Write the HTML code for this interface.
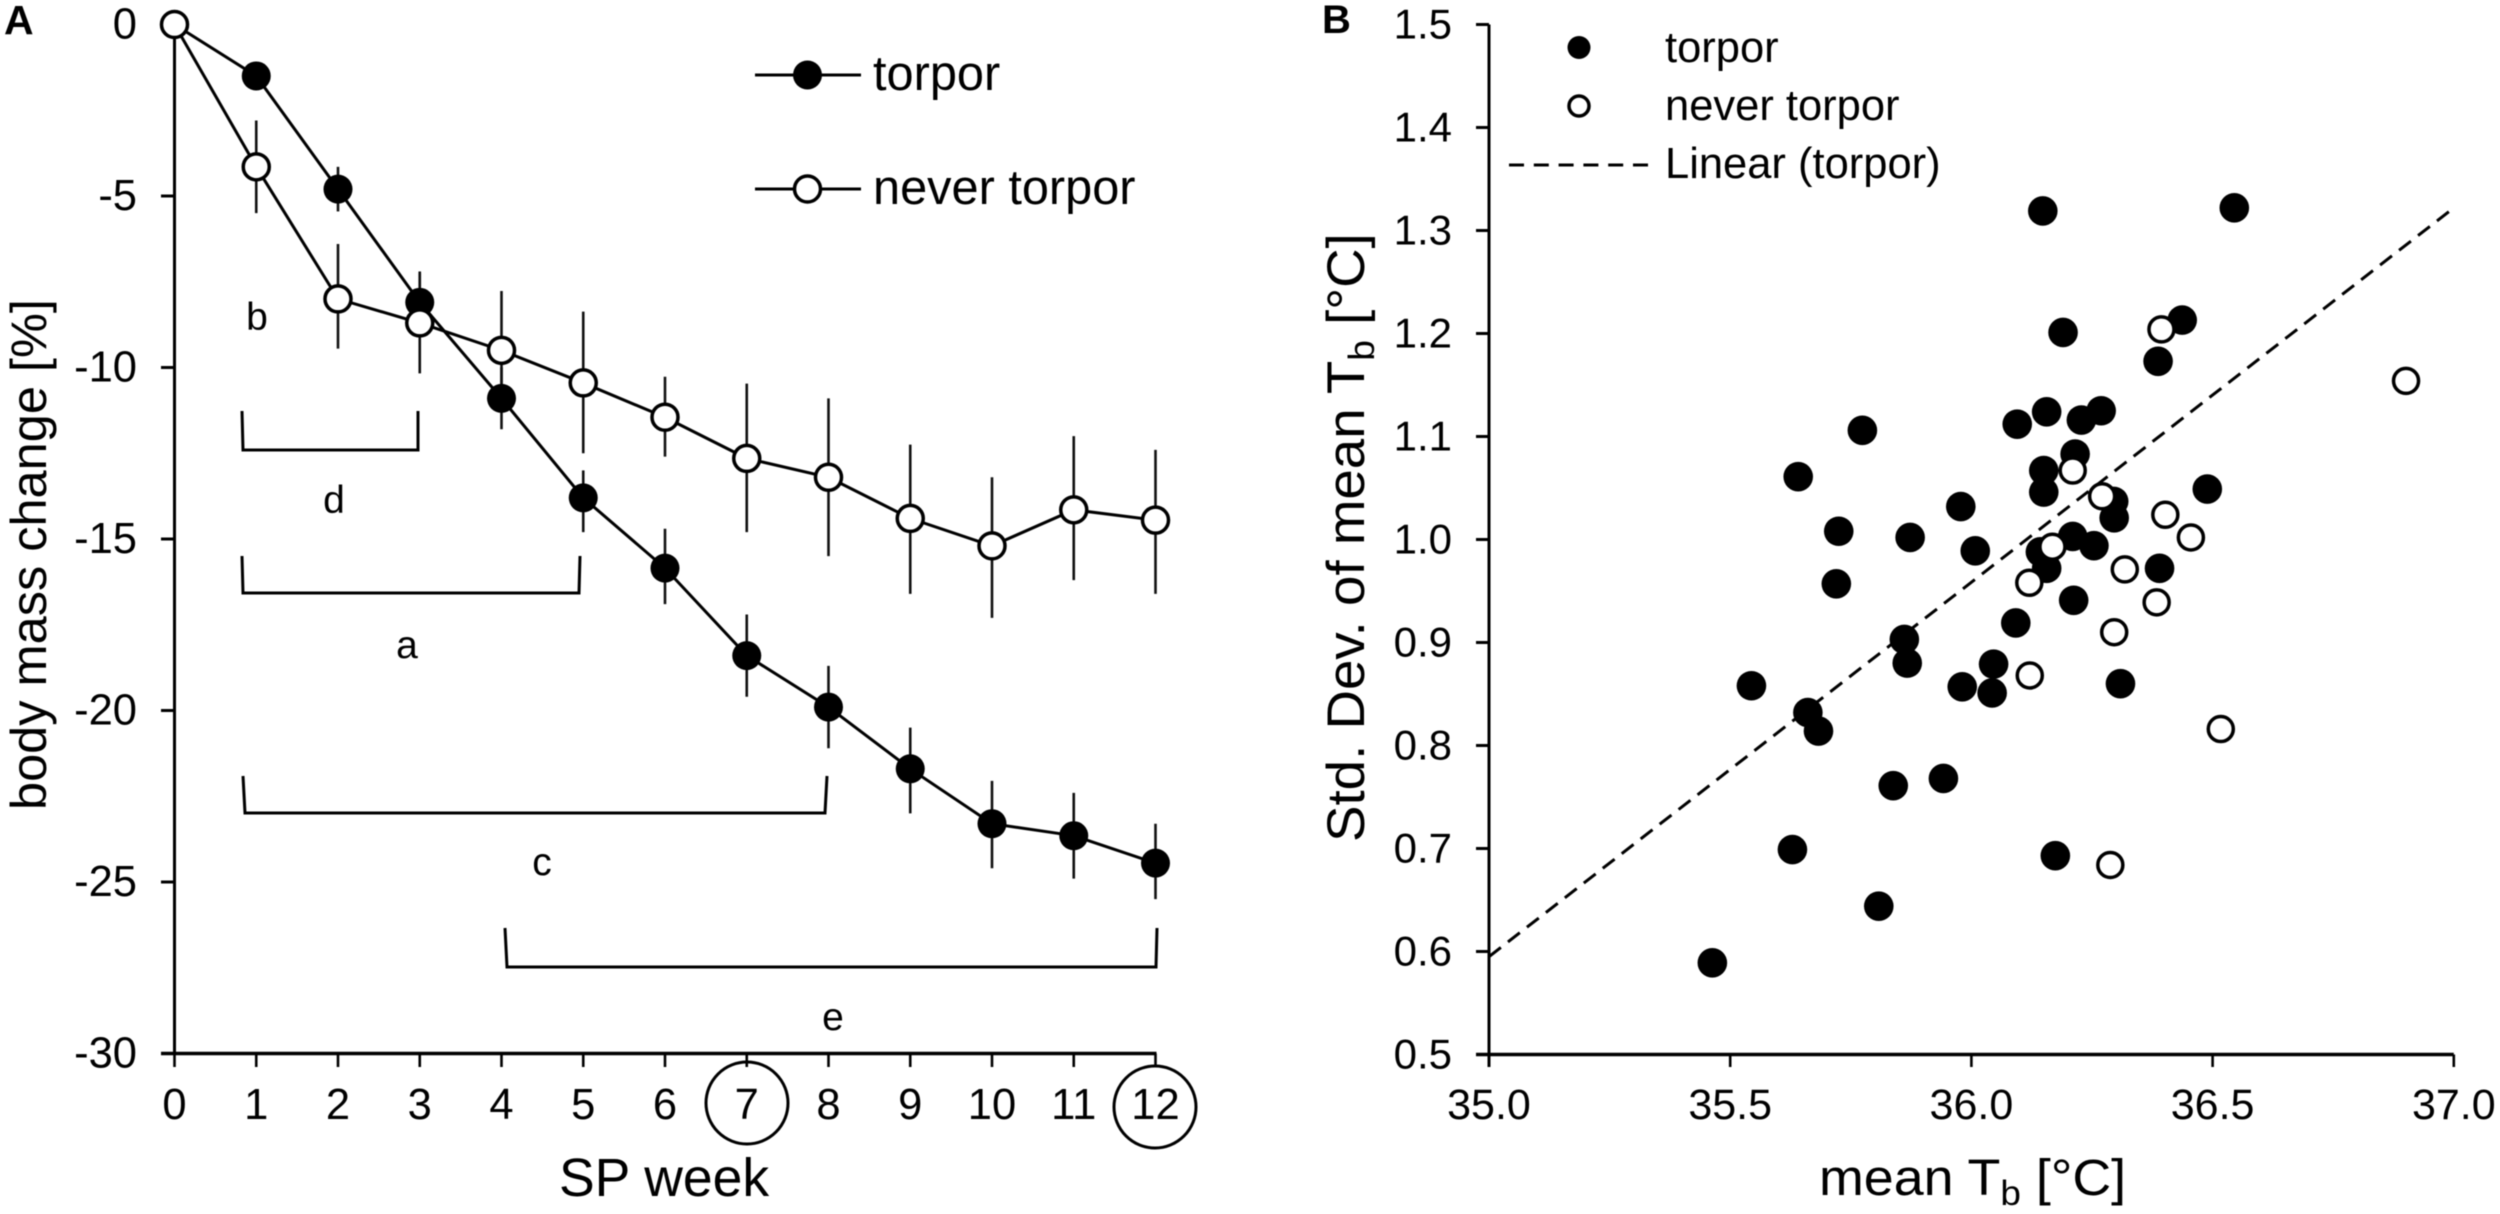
<!DOCTYPE html>
<html>
<head>
<meta charset="utf-8">
<title>Body mass change and body temperature variation</title>
<style>
html,body{margin:0;padding:0;background:#fff;}
svg{display:block;font-family:"Liberation Sans",sans-serif;fill:#000;filter:blur(0.5px);}
</style>
</head>
<body>
<svg id="figure" width="2500" height="1214" viewBox="0 0 2500 1214" xmlns="http://www.w3.org/2000/svg">
  <rect width="2500" height="1214" fill="#fff"/>

  <g id="panelA">
    <text x="4" y="34" font-size="41" font-weight="bold">A</text>
    <text transform="translate(46,810) rotate(-90)" font-size="50.5">body mass change [%]</text>
    <text x="559" y="1196" font-size="53.5">SP week</text>

    <g fill="none" stroke="#000" stroke-width="3">
      <path d="M242 411 L243 450 L418 450 L418 411"/>
      <path d="M242 556 L243 593 L579 593 L580 556"/>
      <path d="M243 776 L245 813 L825 813 L827 776"/>
      <path d="M505 928 L507 967 L1156 967 L1157 928"/>
    </g>
    <g font-size="39" text-anchor="middle">
      <text x="257" y="330">b</text>
      <text x="334" y="513">d</text>
      <text x="407" y="658">a</text>
      <text x="542" y="875">c</text>
      <text x="833" y="1030">e</text>
    </g>

    <g>
      <line x1="755" x2="861" y1="75" y2="75" stroke="#000" stroke-width="3"/>
      <circle cx="807.5" cy="75" r="14.5" fill="#000"/>
      <text x="873" y="90" font-size="48.7">torpor</text>
      <line x1="755" x2="861" y1="189" y2="189" stroke="#000" stroke-width="3"/>
      <circle cx="807.5" cy="189" r="13" fill="#fff" stroke="#000" stroke-width="3.5"/>
      <text x="873" y="204" font-size="48.7">never torpor</text>
    </g>

    <ellipse cx="747" cy="1103" rx="41" ry="41" fill="none" stroke="#000" stroke-width="3"/>
    <ellipse cx="1155" cy="1107" rx="41" ry="41" fill="none" stroke="#000" stroke-width="3"/>
  </g>

  <g id="panelB">
    <text x="1322" y="33" font-size="40" font-weight="bold">B</text>
    <text transform="translate(1364,842) rotate(-90) scale(1.032,1)" font-size="53">Std. Dev. of mean T<tspan font-size="36" dy="10">b</tspan><tspan dy="-10"> [°C]</tspan></text>
    <text transform="translate(1819,1195) scale(1.055,1)" font-size="51">mean T<tspan font-size="35" dy="10">b</tspan><tspan dy="-10"> [°C]</tspan></text>

    <g>
      <circle cx="1579" cy="47.5" r="11.5" fill="#000"/>
      <text x="1665" y="62" font-size="43.5">torpor</text>
      <circle cx="1579" cy="106" r="10" fill="#fff" stroke="#000" stroke-width="3.5"/>
      <text x="1665" y="120" font-size="43.5">never torpor</text>
      <line x1="1509" x2="1648" y1="165" y2="165" stroke="#000" stroke-width="3" stroke-dasharray="15 9.8"/>
      <text x="1665" y="178" font-size="43.5">Linear (torpor)</text>
    </g>
  </g>
</svg>

<script>
/* Panel A data */
const weeks = [0,1,2,3,4,5,6,7,8,9,10,11,12];
const torporMass = [0,-1.5,-4.8,-8.1,-10.9,-13.8,-15.85,-18.4,-19.9,-21.7,-23.3,-23.65,-24.45];
const neverMass = [0,-4.15,-8,-8.7,-9.5,-10.45,-11.45,-12.65,-13.2,-14.4,-15.2,-14.15,-14.45];
const torporErrTop = [0,-1.2,-4.15,-7.2,-10,-13,-14.7,-17.2,-18.7,-20.5,-22.05,-22.4,-23.3];
const torporErrBottom = [0,-1.8,-5.45,-9,-11.8,-14.8,-16.9,-19.6,-21.1,-23,-24.6,-24.9,-25.5];
const neverErrTop = [0,-2.8,-6.4,-7.25,-7.77,-8.37,-10.27,-10.47,-10.9,-12.25,-13.2,-12,-12.4];
const neverErrBottom = [0,-5.5,-9.45,-10.17,-11.2,-12.5,-12.6,-14.8,-15.5,-16.6,-17.3,-16.2,-16.6];
const massTicks = [0,-5,-10,-15,-20,-25,-30];

/* Panel B data */
const torporMeanTb = [36.148,36.545,36.19,36.437,36.387,36.156,36.095,36.269,36.228,35.774,36.215,36.15,36.15,35.641,36.489,36.295,36.296,35.978,35.725,35.873,36.21,36.254,36.008,36.143,36.156,36.39,35.72,36.212,36.092,35.861,35.867,36.046,35.981,36.043,36.309,35.544,35.661,35.683,35.838,35.942,35.629,36.174,35.808,35.463];
const torporStdDev = [1.319,1.322,1.201,1.213,1.173,1.124,1.112,1.125,1.116,1.106,1.083,1.067,1.046,1.061,1.049,1.037,1.021,1.032,1.008,1.002,1.003,0.994,0.989,0.988,0.972,0.972,0.957,0.941,0.919,0.903,0.88,0.879,0.857,0.851,0.86,0.858,0.832,0.814,0.761,0.768,0.699,0.693,0.644,0.589];
const neverMeanTb = [36.394,36.901,36.21,36.271,36.402,36.455,36.168,36.318,36.12,36.384,36.296,36.121,36.517,36.288];
const neverStdDev = [1.204,1.154,1.067,1.042,1.024,1.002,0.993,0.971,0.958,0.939,0.91,0.868,0.816,0.684];
const trendX = [35,37];
const trendY = [0.595,1.322];
const tbTicks = ["35.0","35.5","36.0","36.5","37.0"];
const sdTicks = ["1.5","1.4","1.3","1.2","1.1","1.0","0.9","0.8","0.7","0.6","0.5"];

const NS = "http://www.w3.org/2000/svg";
function make(parent, tag, attrs, text) {
  const el = document.createElementNS(NS, tag);
  for (const k in attrs) el.setAttribute(k, attrs[k]);
  if (text !== undefined) el.textContent = text;
  parent.appendChild(el);
  return el;
}

/* Axis functions */
const xA = w => 174.5 + w * 81.75;
const yA = v => 24.5 - v * 34.3;
const xB = t => 1489 + (t - 35) * 482.4;
const yB = s => 24.5 + (1.5 - s) * 1030;

const panelA = document.getElementById("panelA");
const panelB = document.getElementById("panelB");

/* Panel A axes */
let el;
el = make(panelA, "line", {x1:xA(0), x2:xA(0), y1:yA(0), y2:yA(-30), stroke:"#000", "stroke-width":3});


el = make(panelA, "line", {x1:161, x2:xA(12)+1, y1:yA(-30), y2:yA(-30), stroke:"#000", "stroke-width":3.5});



massTicks.forEach(v => {
  const t = make(panelA, "line", {x1:161, x2:xA(0), y1:yA(v), y2:yA(v), stroke:"#000", "stroke-width":3});
  
  
  const l = make(panelA, "text", {x:137, y:yA(v)+14, "font-size":43.5, "text-anchor":"end"}, String(v));
  
  
});
weeks.forEach(w => {
  const t = make(panelA, "line", {x1:xA(w), x2:xA(w), y1:yA(-30), y2:1067, stroke:"#000", "stroke-width":2.6});
  
  
  const l = make(panelA, "text", {x:xA(w), y:1119, "font-size":43.5, "text-anchor":"middle"}, String(w));
  
  
});

/* Panel A series */
function drawErrors(tops, bottoms, name) {
  weeks.forEach((w, i) => {
    if (tops[i] === bottoms[i]) return;
    const b = make(panelA, "line", {x1:xA(w), x2:xA(w), y1:yA(tops[i]), y2:yA(bottoms[i]), stroke:"#111", "stroke-width":2.6});
    
    
  });
}
function linePoints(values) {
  return weeks.map((w, i) => xA(w) + "," + yA(values[i])).join(" ");
}
drawErrors(torporErrTop, torporErrBottom, 'error-bar-torpor');
drawErrors(neverErrTop, neverErrBottom, 'error-bar-never-torpor');

el = make(panelA, "polyline", {points:linePoints(torporMass), fill:"none", stroke:"#000", "stroke-width":3});


el = make(panelA, "polyline", {points:linePoints(neverMass), fill:"none", stroke:"#000", "stroke-width":3});



weeks.forEach((w, i) => {
  const p = make(panelA, "circle", {cx:xA(w), cy:yA(torporMass[i]), r:14.5, fill:"#000"});
  
  
});
weeks.forEach((w, i) => {
  const p = make(panelA, "circle", {cx:xA(w), cy:yA(neverMass[i]), r:13, fill:"#fff", stroke:"#000", "stroke-width":3.5});
  
  
});

/* Panel B axes */
el = make(panelB, "line", {x1:xB(35), x2:xB(35), y1:yB(1.5), y2:1067, stroke:"#000", "stroke-width":3});


el = make(panelB, "line", {x1:1476, x2:xB(37), y1:yB(0.5), y2:yB(0.5), stroke:"#000", "stroke-width":3.5});



sdTicks.forEach(s => {
  const v = parseFloat(s);
  const t = make(panelB, "line", {x1:1476, x2:xB(35), y1:yB(v), y2:yB(v), stroke:"#000", "stroke-width":3});
  
  
  const l = make(panelB, "text", {x:1452, y:yB(v)+14, "font-size":42, "text-anchor":"end"}, s);
  
  
});
tbTicks.forEach(s => {
  const v = parseFloat(s);
  const t = make(panelB, "line", {x1:xB(v), x2:xB(v), y1:yB(0.5), y2:1067, stroke:"#000", "stroke-width":2.6});
  
  
  const l = make(panelB, "text", {x:xB(v), y:1119, "font-size":43, "text-anchor":"middle"}, s);
  
  
});

/* Panel B marks */
el = make(panelB, "line", {x1:xB(trendX[0]), y1:yB(trendY[0]), x2:xB(trendX[1]), y2:yB(trendY[1]), stroke:"#000", "stroke-width":3, "stroke-dasharray":"15 9"});



torporMeanTb.forEach((t, i) => {
  const p = make(panelB, "circle", {cx:xB(t), cy:yB(torporStdDev[i]), r:14.8, fill:"#000"});
  
  
});
neverMeanTb.forEach((t, i) => {
  const p = make(panelB, "circle", {cx:xB(t), cy:yB(neverStdDev[i]), r:12.5, fill:"#fff", stroke:"#000", "stroke-width":3.5});
  
  
});
</script>
</body>
</html>
